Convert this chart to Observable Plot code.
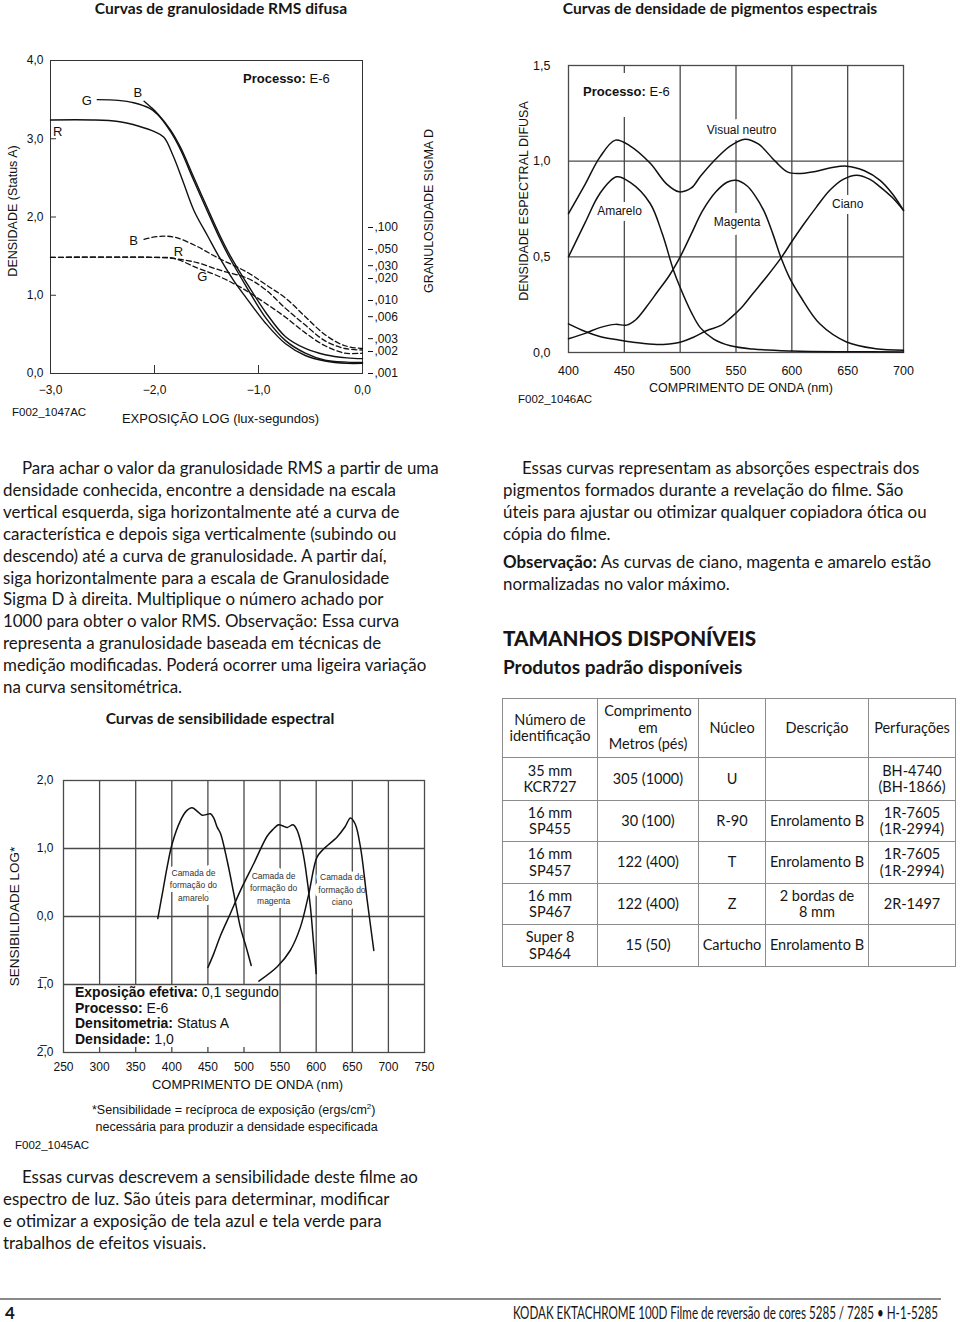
<!DOCTYPE html>
<html lang="pt">
<head>
<meta charset="utf-8">
<script src="https://cdn.jsdelivr.net/npm/d3@7"></script>
<script src="https://cdn.jsdelivr.net/npm/@observablehq/plot@0.6"></script>
<style>
html,body{margin:0;padding:0;background:#fff}
body{position:relative;width:960px;height:1322px;overflow:hidden;font-family:Lato,"Noto Sans",sans-serif;color:#161616}
.a{position:absolute;white-space:nowrap}
.sec{font-weight:700;font-size:15.6px;line-height:18px;transform:translateX(-50%)}
.para{font-size:16.9px;line-height:21.9px;text-indent:19px}
.cf{font-family:"Liberation Sans",Arial,sans-serif;color:#111}
.chart{position:absolute}
.chart svg{position:absolute;left:0;top:0;max-width:none}
table.sz{position:absolute;left:502px;top:698px;width:453px;border-collapse:collapse;table-layout:fixed;font-size:14.5px;line-height:16.5px;text-align:center;color:#161616}
table.sz td{border:1px solid #8c8c8c;padding:0;vertical-align:middle}
</style>
</head>
<body>
<div class="a sec" style="left:221px;top:-1px">Curvas de granulosidade RMS difusa</div>
<div class="a sec" style="left:720px;top:-1px">Curvas de densidade de pigmentos espectrais</div>
<div class="a sec" style="left:220px;top:709px">Curvas de sensibilidade espectral</div>

<div id="c1" class="chart" style="left:0;top:40px;width:440px;height:400px"></div>
<div id="c2" class="chart" style="left:500px;top:40px;width:460px;height:380px"></div>
<div id="c3" class="chart" style="left:0;top:740px;width:460px;height:420px"></div>

<div class="a cf" style="left:243px;top:71px;font-size:13px;line-height:16px"><b>Processo:</b> E-6</div>
<div class="a cf" style="left:580px;top:73px;width:92px;height:44px;background:#fff;font-size:13px;line-height:38px;padding-left:3px"><b>Processo:</b> E-6</div>
<div class="a cf" style="left:12px;top:405px;font-size:11.5px;line-height:14px">F002_1047AC</div>
<div class="a cf" style="left:518px;top:392px;font-size:11.5px;line-height:14px">F002_1046AC</div>
<div class="a cf" style="left:15px;top:1138px;font-size:11.5px;line-height:14px">F002_1045AC</div>
<div class="a cf" style="left:75px;top:985px;font-size:14px;line-height:15.7px"><b>Exposição efetiva:</b> 0,1 segundo<br><b>Processo:</b> E-6<br><b>Densitometria:</b> Status A<br><b>Densidade:</b> 1,0</div>
<div class="a cf" style="left:92px;top:1102px;font-size:12.5px;line-height:17px">*Sensibilidade = recíproca de exposição (ergs/cm<sup style="font-size:8px;line-height:0">2</sup>)<br>&nbsp;necessária para produzir a densidade especificada</div>

<div class="a para" style="left:3px;top:457px">Para achar o valor da granulosidade RMS a partir de uma<br>densidade conhecida, encontre a densidade na escala<br>vertical esquerda, siga horizontalmente até a curva de<br>característica e depois siga verticalmente (subindo ou<br>descendo) até a curva de granulosidade. A partir daí,<br>siga horizontalmente para a escala de Granulosidade<br>Sigma D à direita. Multiplique o número achado por<br>1000 para obter o valor RMS. Observação: Essa curva<br>representa a granulosidade baseada em técnicas de<br>medição modificadas. Poderá ocorrer uma ligeira variação<br>na curva sensitométrica.</div>
<div class="a para" style="left:503px;top:457px">Essas curvas representam as absorções espectrais dos<br>pigmentos formados durante a revelação do filme. São<br>úteis para ajustar ou otimizar qualquer copiadora ótica ou<br>cópia do filme.</div>
<div class="a para" style="left:503px;top:551px;text-indent:0;line-height:21.5px"><b>Observação:</b> As curvas de ciano, magenta e amarelo estão<br>normalizadas no valor máximo.</div>
<div class="a" style="left:503px;top:626px;font-size:20.6px;line-height:24px;font-weight:900">TAMANHOS DISPONÍVEIS</div>
<div class="a" style="left:503px;top:656px;font-size:19px;line-height:22px;font-weight:700">Produtos padrão disponíveis</div>
<div class="a para" style="left:3px;top:1166px">Essas curvas descrevem a sensibilidade deste filme ao<br>espectro de luz. São úteis para determinar, modificar<br>e otimizar a exposição de tela azul e tela verde para<br>trabalhos de efeitos visuais.</div>

<table class="sz" id="sizes"></table>

<div class="a" style="left:0;top:1298px;width:941px;height:0;border-top:2px solid #8a8a8a"></div>
<div class="a" style="left:5px;top:1302px;font-size:17px;line-height:22px;font-weight:700">4</div>
<div class="a" id="foot" style="right:22px;top:1302px;font-size:17px;line-height:22px;transform-origin:right center">KODAK EKTACHROME 100D Filme de reversão de cores 5285 / 7285 • H-1-5285</div>

<script>
// ---------- Chart 1: características (densidade) e granulosidade ----------
const exposureTicks = [-3, -2, -1, 0];
const densityTicks = [0, 1, 2, 3, 4];
const granTicks = [0.001, 0.002, 0.003, 0.006, 0.010, 0.020, 0.030, 0.050, 0.100];

const densR = [[-3.0,3.24],[-2.6,3.24],[-2.35,3.22],[-2.15,3.16],[-2.0,3.09],[-1.91,3.02],[-1.82,2.78],[-1.73,2.47],[-1.62,2.08],[-1.49,1.76],[-1.37,1.47],[-1.24,1.19],[-1.12,0.97],[-0.93,0.64],[-0.74,0.38],[-0.55,0.23],[-0.36,0.16],[-0.15,0.13],[0,0.13]];
const densG = [[-2.55,3.50],[-2.35,3.49],[-2.2,3.46],[-2.05,3.39],[-1.97,3.31],[-1.85,3.10],[-1.75,2.86],[-1.63,2.49],[-1.5,2.10],[-1.37,1.72],[-1.27,1.46],[-1.13,1.14],[-0.93,0.71],[-0.74,0.42],[-0.55,0.26],[-0.36,0.17],[-0.15,0.145],[0,0.14]];
const densB = [[-2.1,3.48],[-2.04,3.41],[-1.97,3.32],[-1.85,3.12],[-1.75,2.89],[-1.63,2.53],[-1.5,2.14],[-1.37,1.76],[-1.27,1.50],[-1.13,1.19],[-0.93,0.78],[-0.74,0.47],[-0.55,0.32],[-0.36,0.24],[-0.15,0.20],[0,0.19]];

const granR = [[-3,0.039],[-2.0,0.039],[-1.85,0.038],[-1.72,0.036],[-1.59,0.033],[-1.37,0.026],[-1.10,0.020],[-0.93,0.014],[-0.74,0.0078],[-0.55,0.0046],[-0.36,0.0028],[-0.17,0.0022],[0,0.0021]];
const granG = [[-3,0.039],[-2.0,0.039],[-1.82,0.038],[-1.59,0.028],[-1.40,0.022],[-1.17,0.0151],[-0.93,0.0091],[-0.74,0.0059],[-0.55,0.0036],[-0.36,0.0024],[-0.17,0.0019],[0,0.0019]];
const granB = [[-2.1,0.069],[-1.98,0.075],[-1.88,0.076],[-1.78,0.072],[-1.59,0.055],[-1.40,0.039],[-1.10,0.024],[-0.93,0.0165],[-0.74,0.0108],[-0.55,0.006],[-0.36,0.0034],[-0.17,0.0024],[0,0.0022]];

const curveLabelText = ["G","B","R","B","R","G"];
const curveLabelX = [-2.65,-2.16,-2.93,-2.20,-1.77,-1.54];
const curveLabelY = [3.49,3.59,3.09,1.69,1.56,1.23];

// ---------- Chart 2: densidade espectral dos pigmentos ----------
const wavelengthTicks2 = [400,450,500,550,600,650,700];
const specDensityTicks = [0,0.5,1.0,1.5];
const pigNeutro = [[400,0.726],[415,0.88],[428,1.02],[442,1.11],[455,1.08],[473,0.99],[488,0.88],[499,0.84],[510,0.86],[518,0.92],[530,1.0],[545,1.08],[558,1.115],[570,1.09],[585,1.0],[596,0.944],[605,0.935],[620,0.945],[635,0.965],[649,0.974],[665,0.95],[679,0.90],[690,0.83],[700,0.743]];
const pigAmarelo = [[400,0.50],[415,0.68],[428,0.83],[443,0.918],[455,0.89],[473,0.78],[484,0.62],[494,0.43],[500,0.34],[510,0.21],[518,0.13],[530,0.07],[545,0.035],[565,0.018],[600,0.008],[650,0.004],[700,0.003]];
const pigMagenta = [[400,0.072],[415,0.10],[428,0.13],[442,0.147],[452,0.143],[460,0.17],[470,0.24],[480,0.32],[490,0.40],[500,0.50],[510,0.62],[520,0.74],[532,0.84],[542,0.89],[550,0.90],[560,0.87],[567,0.82],[575,0.74],[583,0.62],[590,0.50],[598,0.39],[608,0.29],[625,0.15],[649,0.055],[675,0.02],[700,0.012]];
const pigCiano = [[400,0.15],[415,0.11],[428,0.084],[445,0.065],[458,0.054],[479,0.042],[500,0.054],[512,0.08],[524,0.115],[536,0.14],[545,0.18],[555,0.235],[565,0.307],[578,0.40],[591,0.50],[600,0.58],[610,0.665],[622,0.76],[634,0.848],[646,0.905],[658,0.927],[670,0.905],[679,0.866],[690,0.81],[700,0.743]];
const pigLabelText = ["Visual neutro","Amarelo","Magenta","Ciano"];
const pigLabelX = [555,445.7,551,650];
const pigLabelY = [1.162,0.738,0.68,0.775];

// ---------- Chart 3: sensibilidade espectral ----------
const wavelengthTicks3 = [250,300,350,400,450,500,550,600,650,700,750];
const sensTicks = [-2,-1,0,1,2];
const sensAmarelo = [[380.6,-0.03],[388,0.4],[393.6,0.73],[400.5,1.07],[412,1.41],[420,1.55],[428,1.60],[435,1.55],[442,1.49],[448,1.50],[453.6,1.51],[458,1.45],[463,1.31],[467.5,1.22],[476.7,0.82],[486,0.33],[495,-0.16],[503,-0.45],[510,-0.72]];
const sensMagenta = [[450,-0.75],[458,-0.55],[467.5,-0.28],[481,0.04],[495,0.38],[513.6,0.78],[532,1.18],[540,1.28],[548,1.35],[554,1.33],[560,1.31],[568,1.35],[573,1.28],[578,1.12],[582,0.92],[585,0.73],[592,0.14],[596,-0.35],[600,-0.84]];
const sensCiano = [[520.6,-0.95],[546,-0.74],[564,-0.5],[578,-0.16],[589.7,0.33],[601,0.87],[610,0.99],[629,1.17],[640,1.32],[647.5,1.45],[654,1.36],[661.3,1.02],[670.6,0.24],[679.8,-0.5]];
const layerLabelText = ["Camada de\nformação do\namarelo","Camada de\nformação do\nmagenta","Camada de\nformação do\nciano"];
const layerLabelX = [430,541,635.7];
const layerLabelY = [0.47,0.43,0.41];

// ---------- Tabela ----------
const tableHeader = ["Número de<br>identificação","Comprimento<br>em<br>Metros (pés)","Núcleo","Descrição","Perfurações"];
const tableIds = ["35 mm<br>KCR727","16 mm<br>SP455","16 mm<br>SP457","16 mm<br>SP467","Super 8<br>SP464"];
const tableLengths = ["305 (1000)","30 (100)","122 (400)","122 (400)","15 (50)"];
const tableCores = ["U","R-90","T","Z","Cartucho"];
const tableDesc = ["","Enrolamento B","Enrolamento B","2 bordas de<br>8 mm","Enrolamento B"];
const tablePerf = ["BH-4740<br>(BH-1866)","1R-7605<br>(1R-2994)","1R-7605<br>(1R-2994)","2R-1497",""];

// ---------- helpers ----------
const rows = (pairs, series) => pairs.map(([x, y]) => ({x, y, series}));
const comma1 = d => d.toFixed(1).replace(".", ",").replace("-", "\u2212");
const granFmt = d => d3.format(".3f")(d).slice(1).replace(".", ",");
const labels = (t, xs, ys) => t.map((text, i) => ({text, x: xs[i], y: ys[i]}));
const FONT = "Liberation Sans, Arial, Helvetica, sans-serif";
const ink = "#111";
const gridInk = "#4a4a4a";

// Chart 1 (density)
const m1 = {width: 440, height: 400, marginLeft: 50, marginRight: 78, marginTop: 20, marginBottom: 67};
const c1 = Plot.plot({
  ...m1,
  style: {fontFamily: FONT, fontSize: "12px", background: "transparent", color: ink, overflow: "visible"},
  x: {domain: [-3, 0], label: null},
  y: {domain: [0, 4], label: null},
  marks: [
    Plot.frame({stroke: "#333", strokeWidth: 1}),
    Plot.tickY(densityTicks.slice(1, -1), {insetRight: 306, stroke: "#333"}),
    Plot.tickX(exposureTicks.slice(1, -1), {insetTop: 305, stroke: "#333"}),
    Plot.axisY(densityTicks, {tickSize: 0, tickPadding: 7, tickFormat: comma1, label: null, fontSize: 12}),
    Plot.axisX(exposureTicks, {tickSize: 0, tickPadding: 12, tickFormat: comma1, label: null, fontSize: 12}),
    Plot.line([...rows(densR, "R"), ...rows(densG, "G"), ...rows(densB, "B")],
      {x: "x", y: "y", z: "series", curve: "catmull-rom", stroke: ink, strokeWidth: 1.4}),
    Plot.text(labels(curveLabelText, curveLabelX, curveLabelY), {x: "x", y: "y", text: "text", fontSize: 13, fill: ink}),
    Plot.text(["DENSIDADE (Status A)"], {frameAnchor: "left", textAnchor: "middle", rotate: -90, dx: -38, dy: -6, fontSize: 12.5, fill: ink}),
    Plot.text(["EXPOSIÇÃO LOG (lux-segundos)"], {frameAnchor: "bottom", dx: 14, dy: 49, fontSize: 13, fill: ink})
  ]
});
// Chart 1 overlay (granularity, log scale on right)
const c1b = Plot.plot({
  ...m1,
  style: {fontFamily: FONT, fontSize: "12px", background: "transparent", color: ink, overflow: "visible"},
  x: {domain: [-3, 0], label: null, axis: null},
  y: {type: "log", domain: [0.001, 19.4], label: null},
  marks: [
    Plot.line([...rows(granR, "R"), ...rows(granG, "G"), ...rows(granB, "B")],
      {x: "x", y: "y", z: "series", curve: "catmull-rom", stroke: ink, strokeWidth: 1.3, strokeDasharray: "5,3"}),
    Plot.axisY(granTicks, {anchor: "right", tickSize: 5, dx: 5, fill: "none", label: null}),
    Plot.text(granTicks, {y: d => d, text: granFmt, frameAnchor: "right", textAnchor: "start", dx: 12, fontSize: 12, fill: ink}),
    Plot.text(["GRANULOSIDADE SIGMA D"], {frameAnchor: "right", textAnchor: "middle", rotate: -90, dx: 66, dy: -6, fontSize: 12.5, fill: ink})
  ]
});
document.getElementById("c1").append(c1, c1b);

// Chart 2
const c2 = Plot.plot({
  width: 460, height: 380, marginLeft: 68, marginRight: 57, marginTop: 25, marginBottom: 68,
  style: {fontFamily: FONT, fontSize: "12.5px", background: "transparent", color: ink, overflow: "visible"},
  x: {domain: [400, 700], label: null},
  y: {domain: [0, 1.5], label: null},
  marks: [
    Plot.ruleX(wavelengthTicks2.slice(1, -1), {stroke: gridInk, strokeWidth: 1.3}),
    Plot.ruleY(specDensityTicks.slice(1, -1), {stroke: gridInk, strokeWidth: 1.3}),
    Plot.frame({stroke: gridInk, strokeWidth: 1.3}),
    Plot.axisX(wavelengthTicks2, {tickSize: 0, tickPadding: 14, label: null, fontSize: 12.5}),
    Plot.axisY(specDensityTicks, {tickSize: 0, tickPadding: 18, tickFormat: comma1, label: null, fontSize: 12.5}),
    Plot.text(labels(pigLabelText, pigLabelX, pigLabelY), {x: "x", y: "y", text: "text", fontSize: 12, fill: ink, stroke: "white", strokeWidth: 12}),
    Plot.line([...rows(pigNeutro, "N"), ...rows(pigAmarelo, "Y"), ...rows(pigMagenta, "M"), ...rows(pigCiano, "C")],
      {x: "x", y: "y", z: "series", curve: "catmull-rom", stroke: ink, strokeWidth: 1.5}),
    Plot.text(["DENSIDADE ESPECTRAL DIFUSA"], {frameAnchor: "left", textAnchor: "middle", rotate: -90, dx: -45, dy: -8, fontSize: 12.5, fill: ink}),
    Plot.text(["COMPRIMENTO DE ONDA (nm)"], {frameAnchor: "bottom", dx: 5, dy: 39, fontSize: 12.5, fill: ink})
  ]
});
document.getElementById("c2").append(c2);

// Chart 3
const leftGrid = wavelengthTicks3.filter(d => d > 250 && d <= 500);
const rightGrid = wavelengthTicks3.filter(d => d > 500 && d < 750);
const c3 = Plot.plot({
  width: 460, height: 420, marginLeft: 63, marginRight: 36, marginTop: 40, marginBottom: 108,
  style: {fontFamily: FONT, fontSize: "12px", background: "transparent", color: ink, overflow: "visible"},
  x: {domain: [250, 750], label: null},
  y: {domain: [-2, 2], label: null},
  marks: [
    Plot.ruleY(sensTicks.slice(1, -1), {stroke: gridInk, strokeWidth: 1.3}),
    Plot.ruleX(leftGrid, {y1: -1, y2: 2, stroke: gridInk, strokeWidth: 1.3}),
    Plot.ruleX(rightGrid, {y1: -2, y2: 2, stroke: gridInk, strokeWidth: 1.3}),
    Plot.tickX(leftGrid, {insetTop: 267, stroke: gridInk, strokeWidth: 1.3}),
    Plot.frame({stroke: gridInk, strokeWidth: 1.3}),
    Plot.axisX(wavelengthTicks3, {tickSize: 0, tickPadding: 10, label: null, fontSize: 12}),
    Plot.axisY(sensTicks, {tickSize: 0, tickPadding: 10, label: null, fontSize: 12,
      tickFormat: d => d < 0 ? `${-d}\u0305,0` : comma1(d)}),
    Plot.text(labels(layerLabelText, layerLabelX, layerLabelY), {x: "x", y: "y", text: "text", fontSize: 8.5, lineHeight: 1.45, fill: "#333", stroke: "white", strokeWidth: 8}),
    Plot.line([...rows(sensAmarelo, "Y"), ...rows(sensMagenta, "M"), ...rows(sensCiano, "C")],
      {x: "x", y: "y", z: "series", curve: "catmull-rom", stroke: ink, strokeWidth: 1.5}),
    Plot.text(["SENSIBILIDADE LOG*"], {frameAnchor: "left", textAnchor: "middle", rotate: -90, dx: -49, fontSize: 13.5, fill: ink}),
    Plot.text(["COMPRIMENTO DE ONDA (nm)"], {frameAnchor: "bottom", dx: 3.5, dy: 36, fontSize: 13, fill: ink})
  ]
});
document.getElementById("c3").append(c3);

// Table
const rowHeights = [59, 43, 41, 42, 41, 42];
const colWidths = [95, 101, 67, 103, 87];
const tbl = document.getElementById("sizes");
tbl.innerHTML = "<colgroup>" + colWidths.map(w => `<col style="width:${w}px">`).join("") + "</colgroup>" +
  `<tr style="height:${rowHeights[0]}px">` + tableHeader.map(h => `<td>${h}</td>`).join("") + "</tr>" +
  tableIds.map((id, i) => `<tr style="height:${rowHeights[i + 1]}px"><td>${id}</td><td>${tableLengths[i]}</td><td>${tableCores[i]}</td><td>${tableDesc[i]}</td><td>${tablePerf[i]}</td></tr>`).join("");

// Fit footer line to its width in the reference
const foot = document.getElementById("foot");
const fw = foot.getBoundingClientRect().width;
foot.style.transform = `scaleX(${425 / fw})`;
</script>
</body>
</html>
